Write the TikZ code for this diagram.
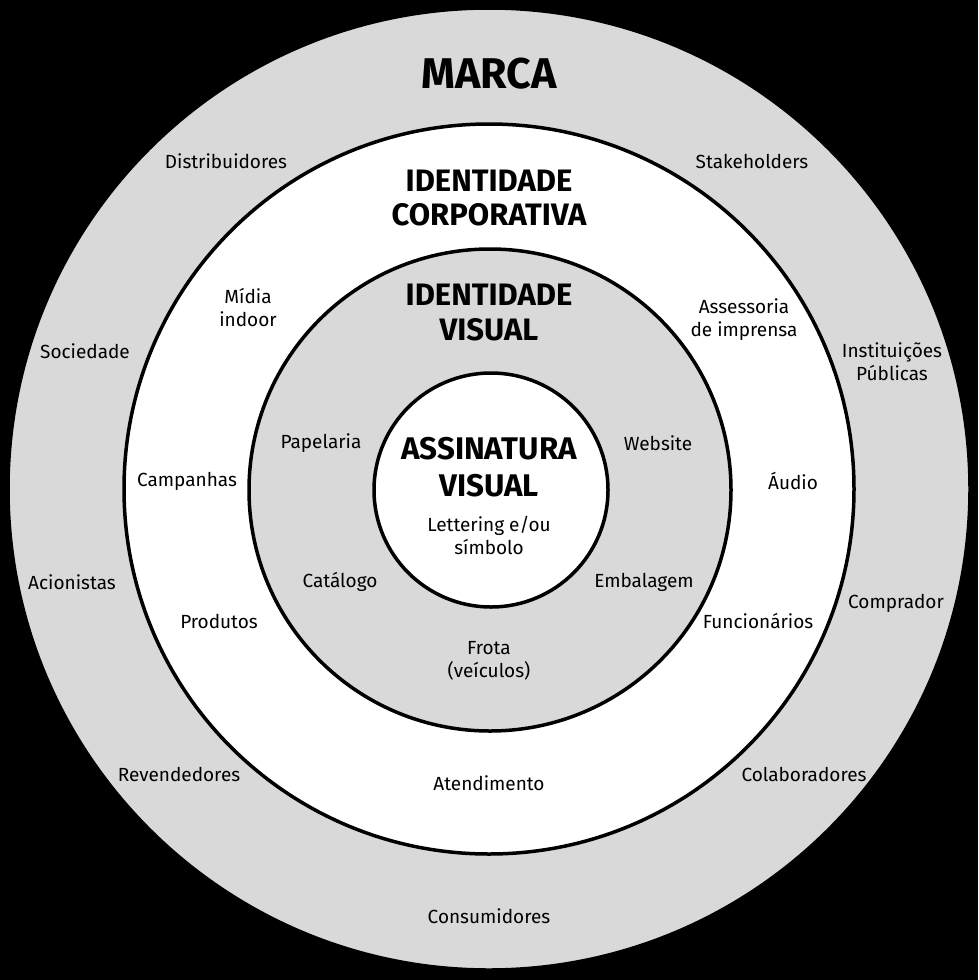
\documentclass[tikz,border=0pt]{standalone}
\usepackage{fontspec}
\setmainfont{Fira Sans}
\begin{document}
\begin{tikzpicture}[x=1pt,y=-1pt,
  ring/.style={circle,draw=black,line width=3.5pt,inner sep=0pt},
  lbl/.style={align=center,font=\fontsize{19}{23}\selectfont},
  ttl/.style={align=center,font=\fontsize{31}{34}\selectfont\bfseries},
  bigttl/.style={align=center,font=\fontsize{43}{46}\selectfont\bfseries}]
\fill[black] (0,0) rectangle (978,980);
\useasboundingbox (0,0) rectangle (978,980);
\definecolor{ringgray}{RGB}{217,217,217}
\node[ring,fill=ringgray,minimum size=962pt] (marca) at (489,489) {};
\node[ring,fill=white,minimum size=730pt] (corp) at (489,489) {};
\node[ring,fill=ringgray,minimum size=482pt] (visual) at (490,490) {};
\node[ring,fill=white,minimum size=234pt] (assin) at (491,490) {};

\node[bigttl] (tmarca) at (489,74) {MARCA};
\node[ttl] (tcorp) at (489,198) {IDENTIDADE\\CORPORATIVA};
\node[ttl,font=\fontsize{31}{35}\selectfont\bfseries] (tvis) at (489,313) {IDENTIDADE\\VISUAL};
\node[ttl,font=\fontsize{31.3}{37}\selectfont\bfseries] (tass) at (489,467) {ASSINATURA\\VISUAL};
\node[lbl] (letter) at (489,535) {Lettering e/ou\\símbolo};

\node[lbl] (distr) at (226,161) {Distribuidores};
\node[lbl] (stake) at (752,161) {Stakeholders};
\node[lbl] (socied) at (85,351) {Sociedade};
\node[lbl] (instit) at (892,362) {Instituições\\Públicas};
\node[lbl] (acion) at (72,582) {Acionistas};
\node[lbl] (compr) at (896,603) {Comprador};
\node[lbl] (revend) at (179,774) {Revendedores};
\node[lbl] (colab) at (804,774) {Colaboradores};
\node[lbl] (consum) at (489,916) {Consumidores};

\node[lbl] (midia) at (248,307) {Mídia\\indoor};
\node[lbl] (assess) at (744,320) {Assessoria\\de imprensa};
\node[lbl] (campan) at (187,481) {Campanhas};
\node[lbl] (audio) at (793,481) {Áudio};
\node[lbl] (produt) at (219,621) {Produtos};
\node[lbl] (funcion) at (758,621) {Funcionários};
\node[lbl] (atend) at (489,783) {Atendimento};

\node[lbl] (papel) at (321,443) {Papelaria};
\node[lbl] (website) at (658,443) {Website};
\node[lbl] (catal) at (340,582) {Catálogo};
\node[lbl] (embal) at (644,582) {Embalagem};
\node[lbl] (frota) at (489,661) {Frota\\(veículos)};
\end{tikzpicture}
\end{document}
